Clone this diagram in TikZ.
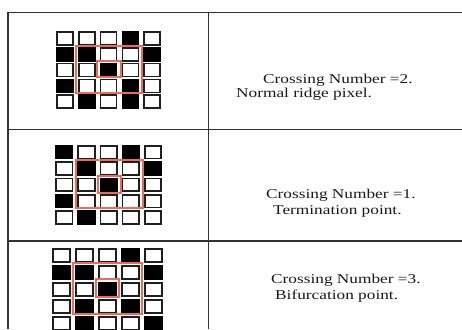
\documentclass[tikz,border=0pt]{standalone}
\usepackage{fontspec}
\newfontfamily\tabfont[FakeStretch=1.28]{Liberation Serif}
\definecolor{rule}{HTML}{333333}
\definecolor{redbox}{RGB}{236,108,86}
\begin{document}
\begin{tikzpicture}[x=1pt,y=-1pt,
  rulel/.style={draw=rule,line width=1.3pt},
  wcell/.style={draw=black!88,line width=1.7pt,fill=white,inner sep=0pt},
  bcell/.style={draw=black,line width=1.7pt,fill=black,inner sep=0pt},
  rbox/.style={draw=redbox,line width=1.2pt},
  lbl/.style={anchor=base west,inner sep=0pt,text=black!90,font=\tabfont\fontsize{13.5}{16}\selectfont}]
\useasboundingbox (0,0) rectangle (462,329);
% table rules
\coordinate (tl) at (8,12.3);
\coordinate (tr) at (462,12.3);
\coordinate (bl) at (8,329);
\coordinate (tm) at (208.3,12.3);
\coordinate (bm) at (208.3,329);
\coordinate (h1l) at (8,129.3);
\coordinate (h1r) at (462,129.3);
\coordinate (h2l) at (8,241);
\coordinate (h2r) at (462,241);
\draw[rulel] (tl) -- (tr);
\draw[rulel] (tl) -- (bl);
\draw[rulel] (tm) -- (bm);
\draw[rulel] (h1l) -- (h1r);
\draw[rulel] (h2l) -- (h2r);
% grids: name, x0, y0, px, py, w, h, pattern
\newcommand{\cellgrid}[8]{%
  \foreach \rw [count=\r] in {#8} {%
    \foreach \v [count=\c] in \rw {%
      \ifnum\v=1
        \node[bcell,minimum width=#6pt,minimum height=#7pt] (#1-\r-\c) at ({#2+(\c-1)*#4+#6/2},{#3+(\r-1)*#5+#7/2}) {};
      \else
        \node[wcell,minimum width=#6pt,minimum height=#7pt] (#1-\r-\c) at ({#2+(\c-1)*#4+#6/2},{#3+(\r-1)*#5+#7/2}) {};
      \fi
    }%
  }%
}
\cellgrid{ga}{57}{32}{21.8}{15.8}{16}{13}{{0,0,0,1,0},{1,1,0,0,1},{0,0,1,0,0},{1,0,0,1,0},{0,1,0,1,0}}
\cellgrid{gb}{56}{146}{22.2}{16.3}{16.5}{12.5}{{1,0,0,1,0},{0,1,0,0,1},{0,0,1,0,0},{1,0,0,0,0},{0,1,0,0,0}}
\cellgrid{gc}{53}{249}{23}{17}{17}{13}{{0,0,0,1,0},{1,1,0,0,1},{0,0,1,0,0},{0,1,0,1,0},{0,1,0,0,1}}
% red boxes
\draw[rbox] (76,46) rectangle (142,93);
\draw[rbox] (97,61) rectangle (121,77);
\draw[rbox] (76,160) rectangle (143,208);
\draw[rbox] (98,176) rectangle (121,193);
\draw[rbox] (73,263) rectangle (142,314);
\draw[rbox] (96,279) rectangle (119,297);
% labels
\node[lbl] (t1a) at (263,83) {Crossing Number =2.};
\node[lbl] (t1b) at (236,97) {Normal ridge pixel.};
\node[lbl] (t2a) at (266,198) {Crossing Number =1.};
\node[lbl] (t2b) at (273,214) {Termination point.};
\node[lbl] (t3a) at (271,283) {Crossing Number =3.};
\node[lbl] (t3b) at (275,299) {Bifurcation point.};
\end{tikzpicture}
\end{document}
